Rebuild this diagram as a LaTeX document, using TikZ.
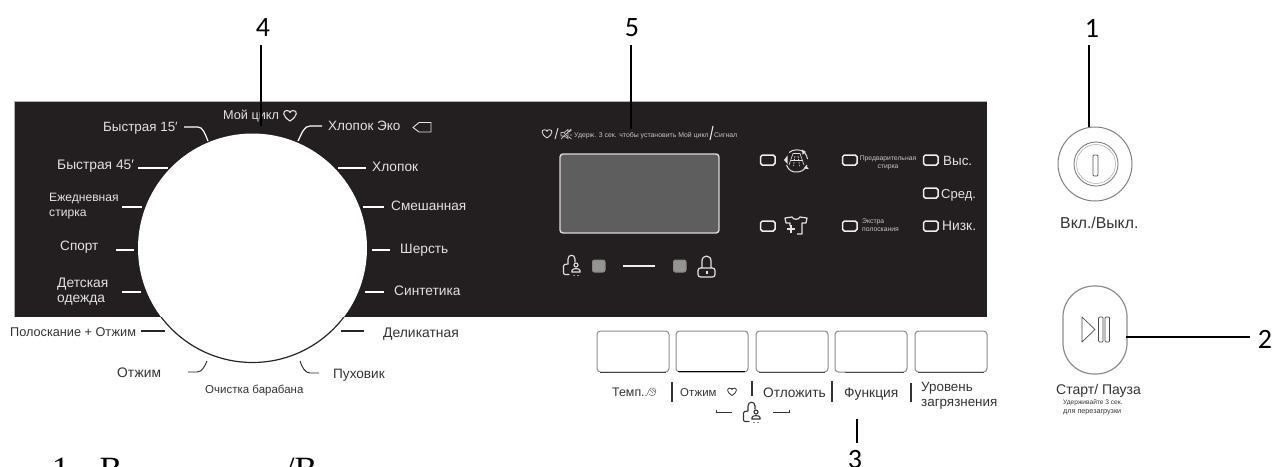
\documentclass[tikz,border=0pt]{standalone}
\usepackage{fontspec}
\setmainfont{Liberation Sans}
\newfontfamily\numfont{Carlito}
\newfontfamily\bodyfont{Liberation Serif}
\usetikzlibrary{calc}
\definecolor{panelc}{HTML}{231F20}
\definecolor{ptext}{HTML}{E2E2E2}
\definecolor{dtext}{HTML}{333333}
\definecolor{ledc}{HTML}{EDEDED}
\definecolor{tiny}{HTML}{C4C4C4}
\newcommand{\fs}[1]{\fontsize{#1}{#1}\selectfont}
\tikzset{
  x=1pt,y=-1pt,
  lbl/.style={anchor=base west,inner sep=0pt,text=ptext},
  dlbl/.style={anchor=base west,inner sep=0pt,text=dtext},
  clbl/.style={anchor=base,inner sep=0pt,text=ptext},
  numlbl/.style={inner sep=0pt,minimum height=34pt,minimum width=30pt,text=black,font=\numfont\fs{28}},
  leader/.style={draw=black,line width=1.9pt},
  tick/.style={draw=white,line width=1.2pt},
  dtick/.style={draw=black!85,line width=1.2pt},
  ledbox/.style={draw=ledc,line width=1.5pt,rounded corners=1.8pt},
  btn/.style={draw=black!45,line width=1pt,rounded corners=3.5pt,fill=white},
  sepline/.style={draw=black!80,line width=1.1pt},
  pics/heart/.style={code={
    \path[pic actions] (0,5) .. controls (-8,0) and (-7.5,-5.5) .. (-3.2,-5.5) .. controls (-1.5,-5.5) and (0,-4.5) .. (0,-3.5) .. controls (0,-4.5) and (1.5,-5.5) .. (3.2,-5.5) .. controls (7.5,-5.5) and (8,0) .. (0,5) -- cycle;
  }},
  pics/lockkid/.style={code={
    \path[pic actions] (-3,8.5) -- (-7,8.5) .. controls (-8.5,8.5) and (-8.5,7) .. (-8.5,6) -- (-8.5,0) .. controls (-8.5,-1.5) and (-7,-2) .. (-4,-2) -- (-4,-7) .. controls (-4,-12) and (3,-12) .. (3,-7) -- (3,-4);
    \path[pic actions] (4,-1) circle (2);
    \path[pic actions] (0,6) -- (0,4.5) .. controls (0,2) and (8,2) .. (8,4.5) -- (8,6) -- cycle;
    \path[pic actions] (2,9.6) -- (2.2,9.6) (6,9.6) -- (6.2,9.6);
  }}
}
\begin{document}
\begin{tikzpicture}[line cap=butt]
\useasboundingbox (0,0) rectangle (1274,466);
\clip (0,0) rectangle (1274,466);
\fill[white] (0,0) rectangle (1274,466);
% panel
\fill[panelc] (14,101) rectangle (987,317);
\draw[black!30,line width=.6pt] (14,101) -- (987,101) (14,101) -- (14,317);
% dial
\fill[white] (252.5,248) circle (114.5);
\begin{scope}
  \clip (100,317) rectangle (400,400);
  \draw[black!85,line width=1.2pt] (252.5,248) circle (114.5);
\end{scope}
% dial ticks
\draw[tick] (184,127) -- (198,127) .. controls (203,127) and (205,134) .. (208,141);
\draw[tick] (298,141) .. controls (302,133) and (304,126) .. (310,126) -- (322,126);
\draw[tick] (138,168) -- (168,168);
\draw[tick] (338,168) -- (366,168);
\draw[tick] (122,207) -- (142,207);
\draw[tick] (363,207) -- (384,207);
\draw[tick] (116,250) -- (134,250);
\draw[tick] (372,250) -- (390,250);
\draw[tick] (122,292) -- (141,292);
\draw[tick] (365,292) -- (384,292);
\draw[dtick] (141,331) -- (165,331);
\draw[dtick] (341,331) -- (364,331);
\draw[dtick,line width=.9pt] (188,372) -- (197,372) .. controls (202,372) and (205,366) .. (207,361);
\draw[dtick,line width=.9pt] (300,361) .. controls (302,367) and (305,373) .. (310,373) -- (319,373);
% dial labels
\node[lbl,font=\fs{12.7}] (dmy) at (223,119.5) {Мой цикл};
\pic[draw=ptext,line width=1.1pt] at (290,116) {heart};
\node[lbl,font=\fs{13.4}] (dq15) at (103,131.5) {Быстрая 15′};
\node[lbl,font=\fs{13.5}] (deco) at (328,130.5) {Хлопок Эко};
\draw[ptext,line width=.9pt] (431,122.5) -- (419,122.5) -- (413,127.5) -- (419,132) -- (431,132) -- cycle;
\node[lbl,font=\fs{13.8}] (dq45) at (57,169.5) {Быстрая 45′};
\node[lbl,font=\fs{13.7}] (dcot) at (372,171.5) {Хлопок};
\node[lbl,font=\fs{12.1}] (dday1) at (49,201) {Ежедневная};
\node[lbl,font=\fs{12.1}] (dday2) at (49,216) {стирка};
\node[lbl,font=\fs{13.6}] (dmix) at (391,210.5) {Смешанная};
\node[lbl,font=\fs{13.6}] (dspo) at (60,250.5) {Спорт};
\node[lbl,font=\fs{13.7}] (dwoo) at (400,253.5) {Шерсть};
\node[lbl,font=\fs{13.8}] (dkid1) at (57,287.5) {Детская};
\node[lbl,font=\fs{13.8}] (dkid2) at (57,302.5) {одежда};
\node[lbl,font=\fs{13.7}] (dsyn) at (394,295.5) {Синтетика};
\node[dlbl,font=\fs{12.7}] (drin) at (10,336.5) {Полоскание + Отжим};
\node[dlbl,font=\fs{13.9}] (ddel) at (383,337) {Деликатная};
\node[dlbl,font=\fs{13.8}] (dspi) at (117,377) {Отжим};
\node[dlbl,font=\fs{13.6}] (ddow) at (333,378) {Пуховик};
\node[dlbl,font=\fs{11.5}] (dcle) at (205,393) {Очистка барабана};
% top tiny line
\pic[draw=ptext,line width=.8pt,scale=.78] at (547,134) {heart};
\draw[ptext,line width=.9pt] (558,128) -- (555,139);
\draw[tiny,line width=.7pt] (561,132.5) -- (564,132.5) -- (568,129.5) -- (568,138.5) -- (564,136) -- (561,136) -- cycle (569,132) -- (571.5,130) (570,135) -- (572,135) (569,137) -- (571.5,139) (561,139) -- (571,129) (564,133) -- (568,137);
\node[lbl,font=\fs{6.9},text=tiny] (tline) at (574,137.5) {Удерж. 3 сек. чтобы установить Мой цикл};
\draw[ptext,line width=1.1pt] (713,126) -- (710,140);
\node[lbl,font=\fs{6.9},text=tiny] (tsig) at (714,137.5) {Сигнал};
% display
\draw[fill=black!63,draw=black!15,line width=1.4pt,rounded corners=3pt] (560,154) rectangle (719,233);
% lock row
\pic[draw=ptext,line width=1.1pt,line cap=round] at (572,266) {lockkid};
\draw[fill=black!42,draw=red!15!black!50,line width=1pt,rounded corners=2pt] (592.5,260) rectangle (605,272);
\draw[ledc,line width=1.2pt] (623,266) -- (655,266);
\draw[fill=black!42,draw=red!15!black!50,line width=1pt,rounded corners=2pt] (673.5,260) rectangle (686,272);
\draw[ptext,line width=1.2pt,rounded corners=2.5pt] (698,268) rectangle (715,277);
\draw[ptext,line width=1.2pt] (702,268) -- (702,261) .. controls (702,254.5) and (711,254.5) .. (711,261) -- (711,268);
\fill[ptext] (705.8,271.2) rectangle (707.8,274.4);
% indicators
\draw[ledbox] (760.5,155) rectangle (775,165);
\draw[ledbox] (760.5,221) rectangle (775,231);
\draw[ledbox] (842.5,155) rectangle (857,165);
\draw[ledbox] (842.5,221) rectangle (857,231);
\draw[ledbox] (923.5,155) rectangle (938,165);
\draw[ledbox] (923.5,188) rectangle (938,198);
\draw[ledbox] (923.5,221) rectangle (938,231);
% wash icon
\begin{scope}[ptext]
  \draw[line width=1pt] (789,152.5) .. controls (793,149) and (800,149) .. (804,152);
  \draw[line width=1pt] (786.5,165) .. controls (789,171) and (792,172) .. (797,172) .. controls (801,172) and (805,170) .. (807,165);
  \draw[line width=1pt] (807.5,159) .. controls (807.5,157) and (806,154) .. (804,152);
  \fill (784,160) -- (787.5,155.5) -- (787.5,164) -- cycle;
  \fill (802,149.5) -- (806,152) -- (802.5,154.5) -- cycle;
  \fill (806,165.5) -- (808.8,169) -- (803.5,168.5) -- cycle;
  \draw[line width=.6pt] (793,153.5) -- (800,153.5) -- (804,165) (793,153.5) -- (789,165);
  \draw[line width=.6pt,dash pattern=on 2pt off 1pt] (795,156) -- (793.5,166) (798,156) -- (799.5,166);
  \draw[line width=.6pt] (791,160) -- (802,160);
\end{scope}
% shirt icon
\draw[ptext,line width=1.2pt,line join=round] (790,226) -- (790,223) -- (786,223) -- (785,218) -- (792,217) .. controls (793,220) and (799,220) .. (800,217) -- (807,218) -- (806,223) -- (802,223) -- (802,234) -- (797,234);
\draw[ptext,line width=1.2pt] (787,229) -- (795,229) (791,225) -- (791,233);
% indicator labels
\node[clbl,font=\fs{6.8},text=tiny] (ipre1) at (888,160.5) {Предварительная};
\node[clbl,font=\fs{6.8},text=tiny] (ipre2) at (888,168.5) {стирка};
\node[lbl,font=\fs{6.8},text=tiny] (iex1) at (862,223) {Экстра};
\node[lbl,font=\fs{6.8},text=tiny] (iex2) at (862,231) {полоскания};
\node[lbl,font=\fs{13.4}] (ihi) at (943,165) {Выс.};
\node[lbl,font=\fs{13}] (imi) at (941,198) {Сред.};
\node[lbl,font=\fs{13.8}] (ilo) at (942,230) {Низк.};
% buttons
\foreach \bx in {597,676,756,835,915}{
  \draw[btn] (\bx,331) rectangle ++(72,41);
}
\draw[black!75,line width=.8pt] (600,372) -- (666,372);
\draw[black,line width=1.2pt] (678,371.8) -- (745,371.8);
\draw[black!70,line width=.8pt] (759,372) -- (825,372);
\draw[black!70,line width=.8pt] (845,372) -- (904,372);
\draw[black!70,line width=.8pt] (918,372) -- (984,372);
\node[dlbl,font=\fs{12.4}] (btemp) at (612,396.5) {Темп.};
\draw[black!60,line width=.5pt] (645,396) .. controls (648,396) and (648,390) .. (651,388) .. controls (655,387) and (657,391) .. (655,394) .. controls (654,396) and (650,396) .. (649,394);
\draw[black!60,line width=.4pt] (650,390) -- (653,393) (652,389) -- (655,392);
\draw[sepline] (672,382) -- (672,402);
\node[dlbl,font=\fs{11.4}] (bspin) at (680,396) {Отжим};
\pic[draw=dtext,line width=.8pt,scale=.7] at (732,392) {heart};
\draw[sepline] (752,381) -- (752,396);
\node[dlbl,font=\fs{13.7}] (bdel) at (763,397) {Отложить};
\draw[sepline] (832,381) -- (832,402);
\node[dlbl,font=\fs{13.8}] (bfun) at (844,397.5) {Функция};
\draw[sepline] (911,383) -- (911,402);
\node[dlbl,font=\fs{13.4}] (bsoil1) at (921,391) {Уровень};
\node[dlbl,font=\fs{13.4}] (bsoil2) at (921,406.5) {загрязнения};
\draw[black!80,line width=.8pt] (716,409.5) -- (716,412) -- (732,412);
\draw[black!80,line width=.8pt] (773,412) -- (789,412) -- (789,409.5);
\pic[draw=dtext,line width=1.1pt,line cap=round] at (752,413) {lockkid};
% power button
\draw[black!50,line width=1pt] (1095,164) circle (37);
\draw[black!50,line width=.9pt] (1096,164) circle (22);
\draw[black!35,line width=.5pt] (1096,164) circle (19.5);
\draw[black!65,line width=.8pt,rounded corners=1pt] (1093,155) rectangle (1098,176);
\node[dlbl,font=\fs{15.8}] (onoff) at (1060,228.5) {Вкл./Выкл.};
% start button
\draw[black!45,line width=1.2pt,rounded corners=31pt] (1063,286) rectangle (1127,374);
\draw[black!70,line width=.7pt,line join=round] (1082,317) -- (1095,329.5) -- (1082,342) -- cycle;
\draw[black!70,line width=.7pt,rounded corners=1pt] (1098.5,317) rectangle (1103,342);
\draw[black!70,line width=.7pt,rounded corners=1pt] (1105,317) rectangle (1109.5,342);
\node[dlbl,font=\fs{14}] (startp) at (1056,394) {Старт/ Пауза};
\node[dlbl,font=\fs{6.6}] (hold1) at (1063,404.5) {Удерживайте 3 сек.};
\node[dlbl,font=\fs{7.2}] (hold2) at (1063,413.5) {для перезагрузки};
% bottom text, cut by the page edge: only the tall glyphs show
\node[anchor=base west,inner sep=0pt,font=\bodyfont\fs{34}] (btxt1) at (52,480.8) {1};
\node[anchor=base west,inner sep=0pt,font=\bodyfont\fs{34}] (btxt2) at (99.5,480.8) {В};
\node[anchor=base west,inner sep=0pt,font=\bodyfont\fs{34}] (btxt3) at (285,480.8) {/В};
% callouts
\coordinate (t1) at (1089,127);
\coordinate (t2) at (1126,337);
\coordinate (t3) at (857,419);
\coordinate (t4) at (261,126);
\coordinate (t5) at (631,129);
\node[numlbl] (n1) at (1092,28) {1};
\node[numlbl] (n2) at (1265,339) {2};
\node[numlbl] (n3) at (855,460) {3};
\node[numlbl] (n4) at (263,28) {4};
\node[numlbl] (n5) at (632,28) {5};
\draw[leader] (n1.south -| t1) -- (t1);
\draw[leader] (n2.west |- t2) -- (t2);
\draw[leader] (n3.north -| t3) -- (t3);
\draw[leader] (n4.south -| t4) -- (t4);
\draw[leader] (n5.south -| t5) -- (t5);
\end{tikzpicture}
\end{document}
